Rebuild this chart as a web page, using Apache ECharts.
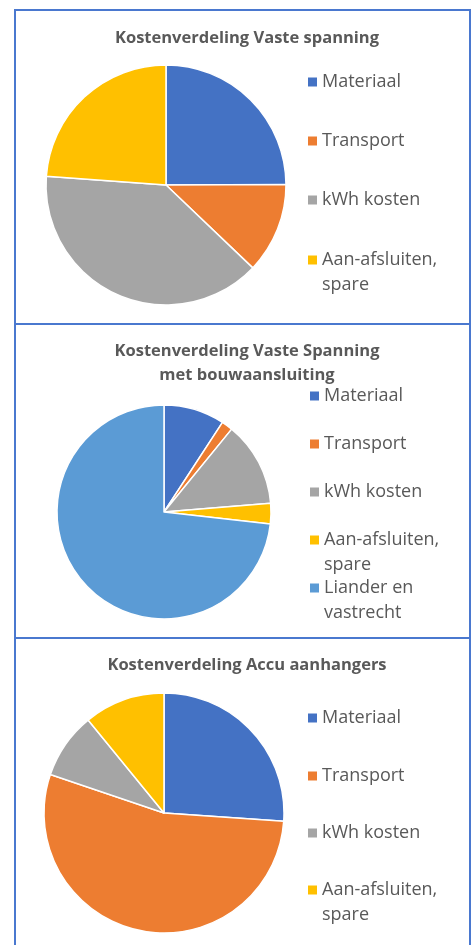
<!DOCTYPE html>
<html>
<head>
<meta charset="utf-8">
<script src="https://cdn.jsdelivr.net/npm/echarts@6/dist/echarts.min.js"></script>
<style>
  html, body { margin: 0; padding: 0; background: #fff; }
  #main { width: 472px; height: 945px; }
</style>
</head>
<body>
<div id="main"></div>
<script>
// kleuren per kostenpost
var categories = ['Materiaal', 'Transport', 'kWh kosten', 'Aan-afsluiten,\nspare', 'Liander en\nvastrecht'];
var colors = ['#4472C4', '#ED7D31', '#A5A5A5', '#FFC000', '#5B9BD5'];

var titles = [
  'Kostenverdeling Vaste spanning',
  'Kostenverdeling Vaste Spanning\nmet bouwaansluiting',
  'Kostenverdeling Accu aanhangers'
];

var vasteSpanning = [24.9, 12.2, 39.0, 23.8];
var bouwaansluiting = [9.2, 1.7, 12.8, 3.1, 73.2];
var accuAanhangers = [26.1, 54.1, 8.9, 10.9];

var chart = echarts.init(document.getElementById('main'));

// panelen: kader, titel, taart en legenda
var panels = [
  { values: vasteSpanning, box: [15, 10, 455, 314], titleTop: 21, center: [166, 185], radius: 120,
    legendLeft: 308, legendY: [82, 141, 200, 260] },
  { values: bouwaansluiting, box: [15, 324, 455, 314], titleTop: 334, center: [164, 512], radius: 107,
    legendLeft: 310, legendY: [396, 444, 492, 540, 588] },
  { values: accuAanhangers, box: [15, 638, 455, 320], titleTop: 648, center: [164, 813], radius: 120,
    legendLeft: 308, legendY: [718, 776, 833, 890] }
];

var LH = 25;
var title = [], series = [], legend = [], graphic = [];

panels.forEach(function(p, k){
  graphic.push({
    type: 'rect',
    shape: { x: p.box[0], y: p.box[1], width: p.box[2], height: p.box[3] },
    style: { fill: null, stroke: '#4A78CF', lineWidth: 2 },
    z: 0
  });

  title.push({
    text: titles[k],
    left: 242,
    top: p.titleTop,
    textAlign: 'center',
    textStyle: { fontFamily: 'Open Sans', fontWeight: 'bold', fontSize: 16.5, color: '#595959', lineHeight: 24 }
  });

  series.push({
    type: 'pie',
    center: p.center,
    radius: p.radius,
    startAngle: 90,
    clockwise: true,
    label: { show: false },
    labelLine: { show: false },
    emphasis: { disabled: true },
    itemStyle: { borderColor: '#fff', borderWidth: 1.5 },
    data: p.values.map(function(v, i){
      return { name: categories[i], value: v, itemStyle: { color: colors[i] } };
    })
  });

  p.values.forEach(function(v, i){
    var name = categories[i];
    var multi = name.indexOf('\n') > -1;
    legend.push({
      orient: 'vertical',
      left: p.legendLeft,
      // meerregelig: lege regel erboven zodat de eerste regel naast het blokje staat
      top: p.legendY[i] - (multi ? 1.5 : 0.5) * LH,
      padding: 0,
      icon: 'rect',
      itemWidth: 9,
      itemHeight: 9,
      itemStyle: { borderWidth: 0 },
      selectedMode: false,
      data: [name],
      formatter: multi ? function(n){ return '\n' + n; } : '{name}',
      textStyle: { fontFamily: 'Open Sans', fontSize: 18, color: '#595959', lineHeight: LH }
    });
  });
});

chart.setOption({
  animation: false,
  title: title,
  legend: legend,
  graphic: graphic,
  series: series
});
</script>
</body>
</html>
